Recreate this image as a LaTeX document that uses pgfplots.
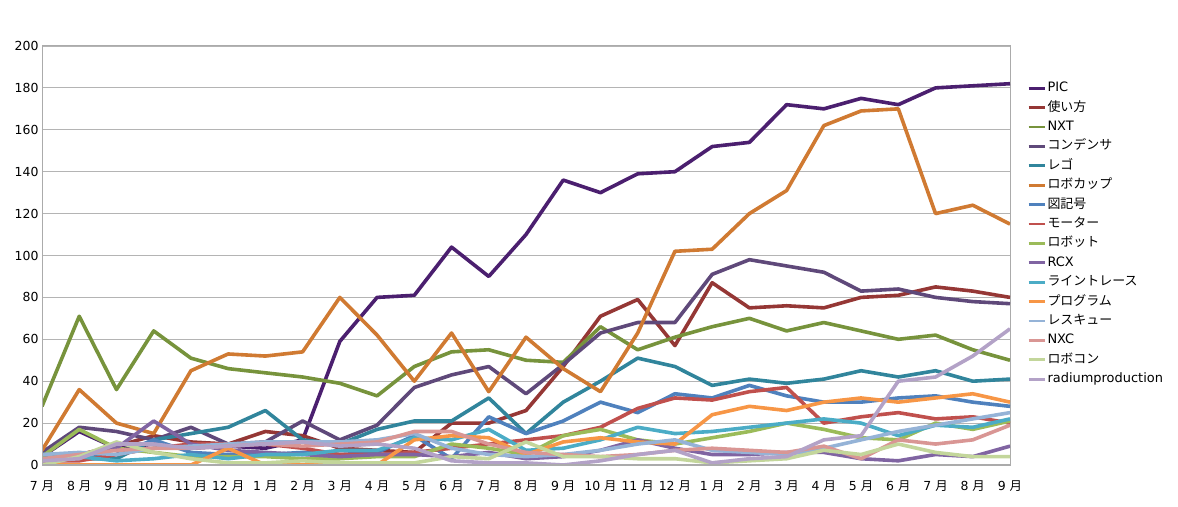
\documentclass[border=0pt]{standalone}
\usepackage{fontspec}
\setmainfont{DejaVu Sans}
\newfontfamily\jp{Noto Sans CJK JP}
\usepackage{pgfplots}
\usepackage{pgfplotstable}
\pgfplotsset{compat=1.18}

\definecolor{gridgray}{HTML}{B4B4B4}
\definecolor{axisgray}{HTML}{ABABAB}
\definecolor{c1}{HTML}{4B1F6F}
\definecolor{c2}{HTML}{953735}
\definecolor{c3}{HTML}{77933C}
\definecolor{c4}{HTML}{5F497A}
\definecolor{c5}{HTML}{31859C}
\definecolor{c6}{HTML}{D07A32}
\definecolor{c7}{HTML}{4F81BD}
\definecolor{c8}{HTML}{C0504D}
\definecolor{c9}{HTML}{9BBB59}
\definecolor{c10}{HTML}{8064A2}
\definecolor{c11}{HTML}{4BACC6}
\definecolor{c12}{HTML}{F79646}
\definecolor{c13}{HTML}{95B3D7}
\definecolor{c14}{HTML}{D99694}
\definecolor{c15}{HTML}{C3D69B}
\definecolor{c16}{HTML}{B3A2C7}

\newcommand{\m}[1]{#1 {\jp 月}}

% monthly counts, 7月 .. 9月 (27 months)
\pgfplotstableread{
i  s1  s2  s3  s4  s5  s6  s7  s8  s9  s10 s11 s12 s13 s14 s15 s16
0  4   3   28  6   5   7   5   2   4   2   5   0   5   3   0   2
1  16  5   71  18  3   36  3   2   17  5   4   0   6   5   4   3
2  8   9   36  16  3   20  5   5   8   8   2   0   5   7   11  10
3  10  14  64  12  12  15  12  8   6   21  3   0   8   8   6   10
4  8   11  51  18  15  45  6   10  4   10  5   0   9   8   3   8
5  9   10  46  10  18  53  5   10  4   7   3   8   10  9   1   9
6  8   16  44  11  26  52  5   10  4   6   5   0   11  10  1   10
7  12  14  42  21  12  54  6   8   3   5   5   0   11  9   2   11
8  59  8   39  12  10  80  5   5   3   4   7   0   11  10  1   9
9  80  7   33  19  17  62  6   5   4   5   7   0   12  11  1   10
10 81  6   47  37  21  40  14  6   4   5   13  12  15  16  1   8
11 104 20  54  43  21  63  3   8   10  4   12  14  8   16  4   2
12 90  20  55  47  32  35  23  10  8   6   17  13  5   10  3   1
13 110 26  50  34  15  61  15  12  5   3   7   5   4   6   11  1
14 136 47  49  48  30  46  21  14  14  4   8   11  5   5   4   0
15 130 71  66  63  40  35  30  18  17  7   12  13  7   4   4   2
16 139 79  55  68  51  63  25  27  12  12  18  11  10  5   3   5
17 140 57  61  68  47  102 34  32  10  8   15  10  12  7   3   7
18 152 87  66  91  38  103 32  31  13  5   16  24  7   8   1   1
19 154 75  70  98  41  120 38  35  16  5   18  28  6   7   2   3
20 172 76  64  95  39  131 33  37  20  6   20  26  5   6   3   4
21 170 75  68  92  41  162 30  20  17  6   22  30  8   9   7   12
22 175 80  64  83  45  169 30  23  13  3   20  32  12  3   5   14
23 172 81  60  84  42  170 32  25  12  2   14  30  16  12  10  40
24 180 85  62  80  45  120 33  22  20  5   19  32  19  10  6   42
25 181 83  55  78  40  124 30  23  17  4   18  34  22  12  4   52
26 182 80  50  77  41  115 28  20  21  9   22  30  25  19  4   65
}\data

\begin{document}
\begin{tikzpicture}
\useasboundingbox (0,0) rectangle (1178bp,507bp);
\begin{axis}[
  at={(42bp,42bp)}, anchor=south west,
  scale only axis, width=968bp, height=419bp,
  xmin=0, xmax=26, ymin=0, ymax=200,
  ytick={0,20,...,200},
  xtick={0,...,26},
  xticklabels={\m{7},\m{8},\m{9},\m{10},\m{11},\m{12},\m{1},\m{2},\m{3},\m{4},\m{5},\m{6},
    \m{7},\m{8},\m{9},\m{10},\m{11},\m{12},\m{1},\m{2},\m{3},\m{4},\m{5},\m{6},\m{7},\m{8},\m{9}},
  major tick length=0pt,
  ymajorgrids,
  grid style={draw=gridgray, line width=0.9bp},
  axis line style={draw=axisgray, line width=1bp},
  tick label style={font=\fontsize{12.5}{15}\selectfont, text=black},
  xticklabel style={yshift=-12bp},
  /pgf/number format/assume math mode=true,
  every axis plot/.append style={line width=3.6bp, no markers, line join=round},
  legend cell align=left,
  legend image code/.code={\draw[#1, line width=2.8bp] (0bp,0bp) -- (16bp,0bp);},
  legend style={at={(1.0176,0.923)}, anchor=north west, draw=none, fill=none,
    inner sep=0pt, row sep=0pt,
    font=\fontsize{13}{15}\selectfont,
    nodes={inner ysep=0pt, inner xsep=1.5bp, text height=13.2bp, text depth=6.2bp}},
]
\addplot[draw=c1]  table[x=i,y=s1]  {\data}; \addlegendentry{PIC}
\addplot[draw=c2]  table[x=i,y=s2]  {\data}; \addlegendentry{\jp 使い方}
\addplot[draw=c3]  table[x=i,y=s3]  {\data}; \addlegendentry{NXT}
\addplot[draw=c4]  table[x=i,y=s4]  {\data}; \addlegendentry{\jp コンデンサ}
\addplot[draw=c5]  table[x=i,y=s5]  {\data}; \addlegendentry{\jp レゴ}
\addplot[draw=c6]  table[x=i,y=s6]  {\data}; \addlegendentry{\jp ロボカップ}
\addplot[draw=c7]  table[x=i,y=s7]  {\data}; \addlegendentry{\jp 図記号}
\addplot[draw=c8]  table[x=i,y=s8]  {\data}; \addlegendentry{\jp モーター}
\addplot[draw=c9]  table[x=i,y=s9]  {\data}; \addlegendentry{\jp ロボット}
\addplot[draw=c10] table[x=i,y=s10] {\data}; \addlegendentry{RCX}
\addplot[draw=c11] table[x=i,y=s11] {\data}; \addlegendentry{\jp ライントレース}
\addplot[draw=c12] table[x=i,y=s12] {\data}; \addlegendentry{\jp プログラム}
\addplot[draw=c13] table[x=i,y=s13] {\data}; \addlegendentry{\jp レスキュー}
\addplot[draw=c14] table[x=i,y=s14] {\data}; \addlegendentry{NXC}
\addplot[draw=c15] table[x=i,y=s15] {\data}; \addlegendentry{\jp ロボコン}
\addplot[draw=c16] table[x=i,y=s16] {\data}; \addlegendentry{radiumproduction}
\draw[axisgray, line width=2bp] (rel axis cs:0,1) -- (rel axis cs:0,0) -- (rel axis cs:1,0);
\end{axis}
\end{tikzpicture}
\end{document}
